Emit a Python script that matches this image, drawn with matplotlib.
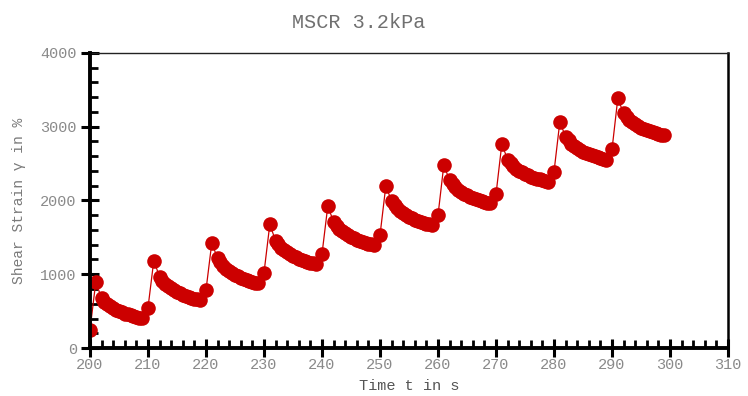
import matplotlib
matplotlib.use('Agg')
import matplotlib.pyplot as plt
from matplotlib.ticker import MultipleLocator
import numpy as np

plt.rcParams['font.family'] = ['Liberation Mono', 'DejaVu Sans Mono']

# cycle start times in s (1 s creep + 9 s recovery each)
cycle_starts = [200, 210, 220, 230, 240, 250, 260, 270, 280, 290]

# shear strain in %: value at start and at peak (t0, t0+1) of each cycle
start_vals = [245, 545, 785, 1020, 1275, 1530, 1800, 2085, 2390, 2695]
peak_vals = [895, 1185, 1425, 1675, 1925, 2195, 2480, 2765, 3065, 3385]

# recovery, sampled every 0.5 s from t0+2 to t0+9
rec_1 = [675, 630, 594, 565, 540, 519, 500, 483, 467, 455, 443, 432, 421, 413, 405]
rec_2 = [965, 913, 870, 837, 808, 783, 760, 741, 723, 708, 694, 681, 669, 659, 650]
rec_3 = [1215, 1160, 1113, 1077, 1045, 1018, 994, 973, 953, 938, 923, 909, 895, 885, 875]
rec_4 = [1455, 1404, 1360, 1327, 1298, 1273, 1250, 1230, 1212, 1198, 1184, 1171, 1159, 1149, 1140]
rec_5 = [1710, 1660, 1616, 1583, 1553, 1528, 1505, 1485, 1467, 1453, 1439, 1426, 1414, 1404, 1395]
rec_6 = [1995, 1942, 1896, 1861, 1830, 1804, 1780, 1760, 1741, 1726, 1711, 1698, 1685, 1675, 1665]
rec_7 = [2275, 2224, 2180, 2147, 2118, 2093, 2070, 2050, 2032, 2018, 2004, 1991, 1979, 1969, 1960]
rec_8 = [2555, 2507, 2465, 2433, 2405, 2382, 2360, 2341, 2324, 2310, 2297, 2285, 2273, 2264, 2255]
rec_9 = [2865, 2815, 2772, 2739, 2710, 2686, 2664, 2644, 2626, 2612, 2598, 2586, 2574, 2564, 2555]
rec_10 = [3180, 3133, 3092, 3060, 3033, 3010, 2988, 2969, 2952, 2939, 2926, 2914, 2903, 2894, 2885]
recoveries = [rec_1, rec_2, rec_3, rec_4, rec_5, rec_6, rec_7, rec_8, rec_9, rec_10]

time_s = []
strain = []
for t0, s, p, rec in zip(cycle_starts, start_vals, peak_vals, recoveries):
    time_s += [t0, t0 + 1] + list(t0 + 2 + 0.5 * np.arange(len(rec)))
    strain += [s, p] + rec

fig = plt.figure(figsize=(7.48, 3.96), dpi=100)
ax = fig.add_axes([0.1203, 0.1212, 0.8530, 0.7450])

ax.plot(time_s, strain, color='#cc0000', linewidth=0.9, marker='o',
        markersize=10.5, markeredgewidth=0, zorder=3)

ax.set_xlim(200, 310)
ax.set_ylim(0, 4000)
ax.xaxis.set_major_locator(MultipleLocator(10))
ax.xaxis.set_minor_locator(MultipleLocator(2))
ax.yaxis.set_major_locator(MultipleLocator(1000))
ax.yaxis.set_minor_locator(MultipleLocator(200))

ax.tick_params(which='major', direction='inout', length=13, width=2.2,
               color='black', labelsize=11, labelcolor='#8a8a8a', pad=3)
ax.tick_params(which='minor', direction='in', length=6, width=2,
               color='black')
ax.tick_params(axis='x', which='major', pad=1)

for side in ['left', 'bottom']:
    ax.spines[side].set_linewidth(2.8)
    ax.spines[side].set_zorder(5)
ax.spines['top'].set_linewidth(1.0)
ax.spines['top'].set_color('#222222')
ax.spines['right'].set_linewidth(1.8)

ax.set_xlabel('Time t in s', fontsize=11, color='#555555', labelpad=5)
ax.set_ylabel('Shear Strain \u03b3 in %', fontsize=10.5, color='#7a7a7a',
              labelpad=10)

fig.text(0.479, 0.944, 'MSCR 3.2kPa', ha='center', va='center',
         fontsize=14.5, color='#707070')

fig.savefig('out.png', dpi=100)
